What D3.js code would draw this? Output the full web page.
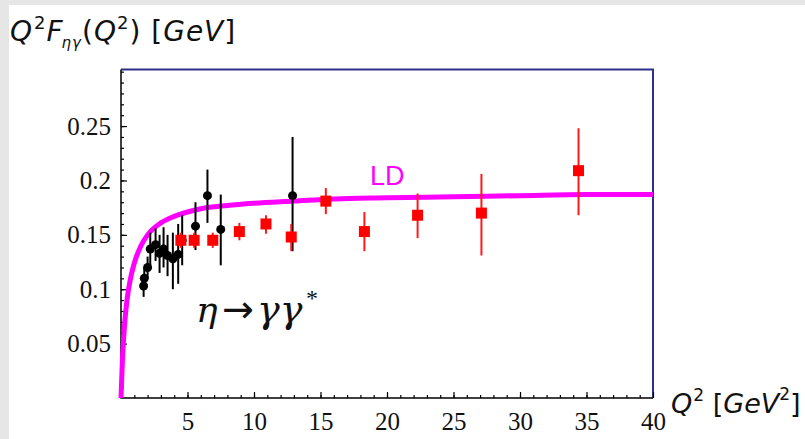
<!DOCTYPE html>
<html>
  <head>
    <script src="https://d3js.org/d3.v7.min.js"></script>
    <style>
      html, body {
        margin: 0;
        padding: 0;
        overflow: hidden;
        background: #fff;
      }
      .tick text {
        font-family: "Liberation Serif", serif;
        font-size: 25px;
        fill: #111;
      }
      .lbl {
        font-family: "DejaVu Sans", sans-serif;
        font-size: 28px;
        letter-spacing: 1px;
        fill: #111;
      }
      .greek {
        font-family: "DejaVu Serif", serif;
        font-style: italic;
        fill: #111;
      }
    </style>
  </head>
  <body>
    <div id="chart"></div>
    <script>
      // LD curve
      const ldQ2  = [0, 0.1, 0.2, 0.3, 0.45, 0.7, 1.0, 1.5, 2, 3, 4, 5, 6, 8, 10, 13, 16, 20, 25, 30, 35, 40];
      const ldVal = [0, 0.033, 0.055, 0.072, 0.090, 0.109, 0.124, 0.140, 0.150, 0.161, 0.167, 0.171, 0.174, 0.177, 0.179, 0.181, 0.183, 0.184, 0.185, 0.186, 0.187, 0.187];

      // black points (CLEO / CELLO)
      const blkQ2  = [1.7, 1.75, 2.0, 2.2, 2.6, 2.9, 3.2, 3.5, 3.9, 4.3, 4.6, 5.6, 6.5, 7.5, 12.9];
      const blkVal = [0.103, 0.110, 0.120, 0.137, 0.141, 0.133, 0.137, 0.131, 0.128, 0.132, 0.145, 0.158, 0.186, 0.155, 0.186];
      const blkLo  = [0.093, 0.100, 0.110, 0.122, 0.126, 0.115, 0.120, 0.112, 0.100, 0.105, 0.122, 0.136, 0.161, 0.122, 0.135];
      const blkHi  = [0.113, 0.120, 0.130, 0.152, 0.156, 0.150, 0.157, 0.150, 0.152, 0.160, 0.168, 0.180, 0.210, 0.187, 0.240];

      // red squares (BaBar)
      const redQ2  = [4.5, 5.5, 6.9, 8.9, 10.9, 12.8, 15.4, 18.3, 22.3, 27.1, 34.4];
      const redVal = [0.145, 0.145, 0.145, 0.153, 0.160, 0.148, 0.181, 0.153, 0.168, 0.170, 0.209];
      const redLo  = [0.138, 0.138, 0.138, 0.145, 0.151, 0.135, 0.169, 0.135, 0.147, 0.131, 0.168];
      const redHi  = [0.152, 0.152, 0.152, 0.161, 0.168, 0.160, 0.193, 0.171, 0.188, 0.206, 0.248];

      const xTicks = [5, 10, 15, 20, 25, 30, 35, 40];
      const yTicks = [0.05, 0.1, 0.15, 0.2, 0.25];

      const width = 805, height = 439;
      const pLeft = 121, pRight = 653, pTop = 69.5, pBottom = 398;

      const svg = d3.select("#chart").append("svg")
        .attr("width", width)
        .attr("height", height);

      // grey page edges
      svg.append("rect").attr("width", width).attr("height", height).attr("fill", "#e6e6e6");
      svg.append("rect").attr("x", 9).attr("y", 5).attr("width", width - 9).attr("height", height - 5).attr("fill", "#fff");

      const x = d3.scaleLinear().domain([0, 40]).range([pLeft, pRight]);
      const y = d3.scaleLinear().domain([0, 0.302]).range([pBottom, pTop]);

      // frame: top/right in navy
      svg.append("path")
        .attr("d", `M${pLeft},${pTop}H${pRight}V${pBottom}`)
        .attr("fill", "none")
        .attr("stroke", "#2e2e8c")
        .attr("stroke-width", 2);

      // minor ticks
      svg.append("g").attr("transform", `translate(0,${pBottom})`)
        .call(d3.axisBottom(x).tickValues(d3.range(1, 40)).tickSize(-3).tickSizeOuter(0).tickFormat(""))
        .call(g => g.select(".domain").remove());
      svg.append("g").attr("transform", `translate(${pLeft},0)`)
        .call(d3.axisLeft(y).tickValues(d3.range(1, 31).map(d => d / 100)).tickSize(-3).tickSizeOuter(0).tickFormat(""))
        .call(g => g.select(".domain").remove());

      // major ticks + labels
      const xAxis = svg.append("g").attr("transform", `translate(0,${pBottom})`)
        .call(d3.axisBottom(x).tickValues(xTicks).tickSize(-6).tickSizeOuter(0).tickPadding(14));
      const yAxis = svg.append("g").attr("transform", `translate(${pLeft},0)`)
        .call(d3.axisLeft(y).tickValues(yTicks).tickSize(-6).tickSizeOuter(0).tickPadding(10).tickFormat(d3.format("")));
      [xAxis, yAxis].forEach(a => a.select(".domain").remove());
      svg.selectAll(".tick line").attr("stroke", "#000").attr("stroke-width", 1.2);
      // black axis lines
      svg.append("path").attr("d", `M${pRight},${pBottom}H${pLeft}V${pTop}`)
        .attr("fill", "none").attr("stroke", "#000").attr("stroke-width", 1.5);

      // LD curve
      const line = d3.line()
        .x((d, i) => x(ldQ2[i]))
        .y(d => y(d))
        .curve(d3.curveMonotoneX);
      svg.append("path")
        .datum(ldVal)
        .attr("d", line)
        .attr("fill", "none")
        .attr("stroke", "#ff00ff")
        .attr("stroke-width", 5);

      svg.append("text")
        .attr("x", 370).attr("y", 185)
        .style("font-family", "'Liberation Sans', Arial, sans-serif")
        .style("font-size", "27px")
        .style("fill", "#ff00ff")
        .text("LD");

      // black points
      const blk = svg.append("g");
      blk.selectAll("line").data(blkQ2).enter().append("line")
        .attr("x1", d => x(d)).attr("x2", d => x(d))
        .attr("y1", (d, i) => y(blkLo[i])).attr("y2", (d, i) => y(blkHi[i]))
        .attr("stroke", "#000").attr("stroke-width", 2);
      blk.selectAll("circle").data(blkQ2).enter().append("circle")
        .attr("cx", d => x(d)).attr("cy", (d, i) => y(blkVal[i]))
        .attr("r", 4.5).attr("fill", "#000");

      // red squares
      const red = svg.append("g");
      red.selectAll("line").data(redQ2).enter().append("line")
        .attr("x1", d => x(d)).attr("x2", d => x(d))
        .attr("y1", (d, i) => y(redLo[i])).attr("y2", (d, i) => y(redHi[i]))
        .attr("stroke", "#ff1a1a").attr("stroke-width", 2);
      red.selectAll("rect").data(redQ2).enter().append("rect")
        .attr("x", d => x(d) - 5.5).attr("y", (d, i) => y(redVal[i]) - 5.5)
        .attr("width", 11).attr("height", 11).attr("fill", "#ff0000");

      // axis titles
      const yt = svg.append("text").attr("class", "lbl").attr("x", 10).attr("y", 41);
      yt.append("tspan").style("font-style", "italic").text("Q");
      yt.append("tspan").attr("dy", -12).attr("dx", 1).style("font-size", "18px").text("2");
      yt.append("tspan").attr("dy", 12).style("font-style", "italic").text("F");
      yt.append("tspan").attr("dy", 7).attr("dx", -2).style("font-size", "15px").style("font-style", "italic").text("ηγ");
      yt.append("tspan").attr("dy", -7).text("(");
      yt.append("tspan").style("font-style", "italic").text("Q");
      yt.append("tspan").attr("dy", -12).style("font-size", "18px").text("2");
      yt.append("tspan").attr("dy", 12).text(") [");
      yt.append("tspan").style("font-style", "italic").text("GeV");
      yt.append("tspan").text("]");

      const xt = svg.append("text").attr("class", "lbl")
        .attr("x", 671).attr("y", 413)
        .style("font-size", "27px").style("letter-spacing", "0px");
      xt.append("tspan").style("font-style", "italic").text("Q");
      xt.append("tspan").attr("dy", -12).attr("dx", 1).style("font-size", "17px").text("2");
      xt.append("tspan").attr("dy", 12).text(" [");
      xt.append("tspan").style("font-style", "italic").text("GeV");
      xt.append("tspan").attr("dy", -13).attr("dx", 0).style("font-size", "17px").text("2");
      xt.append("tspan").attr("dy", 13).text("]");

      // process label
      svg.append("text").attr("class", "greek")
        .attr("x", 196).attr("y", 322).style("font-size", "36px").text("η");
      svg.append("text")
        .attr("x", 222).attr("y", 322)
        .style("font-family", "'DejaVu Sans', sans-serif")
        .style("font-size", "38px").style("fill", "#111")
        .text("→");
      svg.append("text").attr("class", "greek")
        .attr("x", 257).attr("y", 322).style("font-size", "38px").text("γγ");
      svg.append("text")
        .attr("x", 306).attr("y", 306)
        .style("font-family", "'Liberation Serif', serif")
        .style("font-size", "24px").style("fill", "#111")
        .text("*");
    </script>
  </body>
</html>
